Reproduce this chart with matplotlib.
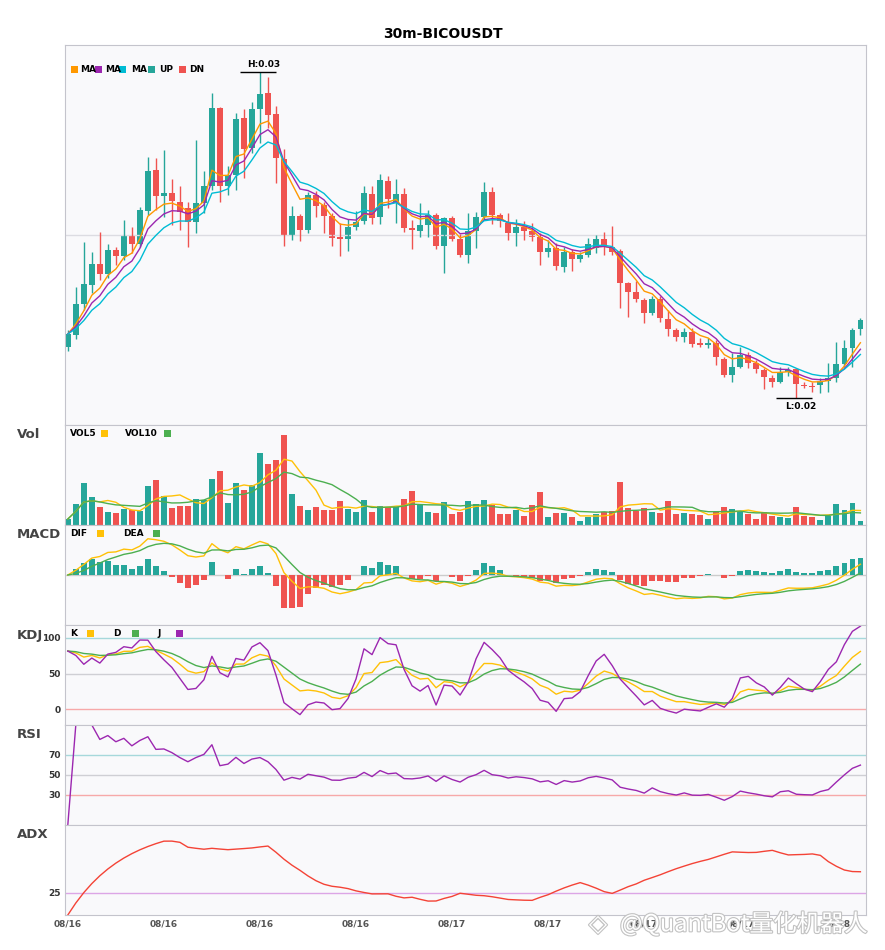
import numpy as np
import pandas as pd
import matplotlib
matplotlib.use('Agg')
import matplotlib.pyplot as plt
from matplotlib.patches import Rectangle
import matplotlib.patheffects as pe

plt.rcParams['font.family'] = ['DejaVu Sans']

# ---- data (30m candles, prices in units of 1e-4 USDT) ----
title = '30m-BICOUSDT'
start_time = '2023-08-16 00:00'

open_ = [215.6, 219.3, 228.8, 234.6, 241.1, 238.0, 245.4, 243.5, 249.6, 247.2,
         257.3, 269.9, 261.9, 262.8, 260.1, 258.2, 254.0, 259.8, 265.0, 288.9,
         265.0, 268.4, 285.9, 276.7, 288.6, 293.6, 287.1, 273.3, 249.6, 255.8,
         251.5, 262.2, 259.2, 255.8, 249.3, 248.7, 252.4, 254.3, 262.5, 255.5,
         266.5, 260.1, 262.5, 252.1, 251.2, 253.0, 256.1, 246.6, 255.2, 248.7,
         243.8, 251.2, 255.5, 263.2, 256.1, 253.6, 250.6, 252.4, 251.2, 249.3,
         244.7, 246.0, 240.1, 244.7, 242.6, 243.8, 246.0, 248.7, 246.3, 245.0,
         235.2, 232.5, 230.0, 226.0, 230.3, 224.2, 220.8, 218.6, 220.2, 216.8,
         216.2, 216.8, 211.9, 207.0, 209.4, 213.1, 210.7, 208.5, 206.1, 204.8,
         207.9, 208.8, 203.9, 203.6, 203.9, 205.1, 206.1, 210.4, 215.3, 221.1]
high = [220.8, 234.0, 247.8, 244.7, 250.9, 247.2, 246.3, 254.6, 252.4, 258.6,
        273.9, 273.6, 276.0, 267.1, 265.0, 260.1, 279.1, 269.6, 293.6, 289.2,
        271.1, 287.4, 288.6, 290.8, 300.0, 298.5, 289.6, 276.4, 258.9, 256.4,
        263.2, 263.5, 260.1, 256.7, 253.6, 254.9, 257.3, 265.0, 265.0, 268.7,
        268.1, 267.1, 264.4, 254.6, 259.8, 257.6, 256.7, 255.5, 255.8, 250.3,
        256.7, 257.0, 266.2, 264.7, 256.7, 256.7, 254.9, 254.3, 253.6, 250.6,
        248.4, 247.5, 246.3, 245.7, 244.7, 249.0, 250.0, 250.9, 252.7, 245.7,
        235.5, 235.8, 230.6, 231.2, 231.2, 226.9, 221.4, 221.4, 221.4, 218.3,
        218.3, 217.7, 212.5, 213.7, 215.6, 214.0, 211.6, 209.1, 207.0, 209.4,
        209.4, 209.1, 204.8, 204.8, 206.1, 210.7, 217.1, 217.7, 221.4, 224.5]
low = [214.3, 218.0, 226.9, 232.1, 236.1, 236.8, 240.7, 242.3, 244.4, 246.3,
       256.1, 257.6, 255.5, 253.0, 251.5, 246.3, 250.6, 256.7, 263.8, 260.1,
       262.2, 263.8, 267.5, 275.1, 278.2, 282.8, 265.9, 246.6, 248.4, 248.1,
       250.6, 255.5, 250.6, 246.5, 243.5, 245.0, 251.5, 253.3, 253.3, 253.3,
       258.2, 253.6, 250.9, 245.7, 249.3, 249.3, 245.7, 238.3, 248.1, 243.2,
       241.4, 246.0, 254.6, 253.3, 252.4, 248.4, 246.6, 248.4, 248.1, 240.7,
       243.2, 239.2, 238.6, 238.9, 241.7, 243.2, 244.4, 243.8, 243.8, 227.5,
       224.8, 229.4, 222.9, 225.4, 223.2, 219.0, 217.4, 217.1, 215.6, 215.6,
       215.3, 210.0, 206.4, 204.8, 209.1, 209.1, 207.6, 202.7, 203.3, 204.5,
       206.7, 200.0, 203.0, 201.8, 201.5, 201.8, 204.8, 209.4, 209.4, 219.4]
close = [219.6, 228.8, 234.9, 241.1, 238.0, 245.4, 243.5, 250.0, 247.2, 257.6,
         269.6, 261.9, 262.8, 260.4, 257.0, 254.0, 259.8, 265.0, 288.9, 265.0,
         268.4, 285.6, 276.4, 288.6, 293.2, 286.8, 273.6, 249.6, 255.8, 251.5,
         262.2, 258.9, 255.8, 249.0, 248.7, 252.4, 254.0, 262.8, 255.2, 266.9,
         261.0, 262.5, 252.1, 251.5, 253.0, 256.1, 246.6, 255.2, 248.7, 243.8,
         251.2, 255.5, 263.2, 256.1, 254.3, 250.6, 252.4, 251.2, 249.3, 244.7,
         246.0, 240.4, 244.7, 242.6, 243.8, 247.2, 248.7, 246.9, 244.7, 235.2,
         232.5, 230.3, 226.0, 230.3, 224.5, 221.1, 218.6, 220.2, 216.5, 216.2,
         216.8, 212.5, 207.0, 209.4, 213.1, 210.7, 208.8, 206.4, 204.8, 207.9,
         208.5, 204.2, 203.6, 203.3, 205.1, 206.1, 210.4, 215.3, 220.8, 223.9]
volume = [18, 64, 125, 85, 55, 40, 37, 49, 45, 43,
          118, 136, 88, 52, 58, 58, 79, 76, 139, 163,
          67, 127, 106, 121, 217, 184, 196, 271, 94, 58,
          46, 55, 46, 46, 73, 49, 40, 76, 40, 58,
          55, 55, 79, 103, 61, 40, 37, 70, 34, 40,
          73, 64, 76, 61, 34, 34, 46, 28, 61, 100,
          25, 37, 37, 25, 13, 25, 34, 40, 43, 130,
          52, 43, 52, 40, 37, 73, 34, 37, 34, 31,
          19, 43, 55, 49, 43, 34, 19, 40, 28, 25,
          22, 55, 28, 25, 16, 28, 64, 46, 67, 13]

UP, DN = '#26a69a', '#ef5350'
ORANGE, PURPLE, CYAN = '#ff9800', '#9c27b0', '#00bcd4'
GOLD, GREEN = '#ffc107', '#4caf50'
BG = '#f9f9fb'

o = np.array(open_) / 1e4
h = np.array(high) / 1e4
l = np.array(low) / 1e4
c = np.array(close) / 1e4
v = np.array(volume, dtype=float)
x = np.arange(len(c))
dates = pd.date_range(start_time, periods=len(c), freq='30min')
cs, hs, ls, vs = pd.Series(c), pd.Series(h), pd.Series(l), pd.Series(v)
col = np.where(c >= o, UP, DN)

# ---- indicators ----
ma1 = cs.ewm(span=5, adjust=False).mean()
ma2 = cs.ewm(span=7, adjust=False).mean()
ma3 = cs.ewm(span=10, adjust=False).mean()
vol5 = vs.rolling(5, min_periods=1).mean()
vol10 = vs.rolling(10, min_periods=1).mean()

# MACD(6, 13, 5)
dif = cs.ewm(span=6, adjust=False).mean() - cs.ewm(span=13, adjust=False).mean()
dea = dif.ewm(span=5, adjust=False).mean()
hist = 2 * (dif - dea)

# KDJ(9, 3, 3)
low9 = ls.rolling(9, min_periods=1).min()
high9 = hs.rolling(9, min_periods=1).max()
rsv = (cs - low9) / (high9 - low9) * 100
k = rsv.ewm(com=2, adjust=False).mean()
d = k.ewm(com=2, adjust=False).mean()
j = 3 * k - 2 * d

# RSI(14)
delta = cs.diff()
gain = delta.clip(lower=0).ewm(alpha=1 / 14, adjust=True).mean()
loss = (-delta.clip(upper=0)).ewm(alpha=1 / 14, adjust=True).mean()
rsi = (100 * gain / (gain + loss)).fillna(0)

# ADX(14)
up_move = hs.diff()
down_move = -ls.diff()
pdm = pd.Series(np.where((up_move > down_move) & (up_move > 0), up_move, 0.0))
mdm = pd.Series(np.where((down_move > up_move) & (down_move > 0), down_move, 0.0))
prev_c = cs.shift(1)
tr = pd.concat([hs - ls, (hs - prev_c).abs(), (ls - prev_c).abs()], axis=1).max(axis=1)
atr = tr.ewm(span=14, adjust=False).mean()
pdi = 100 * pdm.ewm(span=14, adjust=False).mean() / atr
mdi = 100 * mdm.ewm(span=14, adjust=False).mean() / atr
dx = (100 * (pdi - mdi).abs() / (pdi + mdi)).fillna(0)
adx = dx.ewm(span=14, adjust=False).mean()

# ---- layout ----
W, H = 885, 950
fig = plt.figure(figsize=(W / 100, H / 100), dpi=100)


def box(top, bottom):
    return [65 / W, 1 - bottom / H, 801 / W, (bottom - top) / H]


ax_k = fig.add_axes(box(45, 425))
ax_v = fig.add_axes(box(425, 525))
ax_m = fig.add_axes(box(525, 625))
ax_j = fig.add_axes(box(625, 725))
ax_r = fig.add_axes(box(725, 825))
ax_a = fig.add_axes(box(825, 915))
axes = [ax_k, ax_v, ax_m, ax_j, ax_r, ax_a]

for ax in axes:
    ax.set_facecolor(BG)
    ax.set_xlim(-0.35, len(c) - 0.3)
    for s in ax.spines.values():
        s.set_color('#c4c4cc')
    ax.tick_params(length=0, labelsize=6.5, colors='#333333', pad=3)
    ax.set_xticks([])
    ax.set_yticks([])

# candles
ax_k.vlines(x, l, h, colors=col, linewidth=1)
ax_k.bar(x, np.maximum(np.abs(c - o), 0.00003), bottom=np.minimum(o, c), width=0.72, color=col)
ax_k.plot(x, ma1, color=ORANGE, lw=1)
ax_k.plot(x, ma2, color=PURPLE, lw=1)
ax_k.plot(x, ma3, color=CYAN, lw=1)
hi, lo = h.max(), l.min()
pad = 0.083 * (hi - lo)
ax_k.set_ylim(lo - pad, hi + pad)
ax_k.set_yticks([0.025])
ax_k.tick_params(labelleft=False)
ax_k.grid(axis='y', color='#dcdce2', lw=1)
ih, il = int(np.argmax(h)), int(np.argmin(l))
ax_k.hlines(hi, ih - 2.5, ih + 2, color='black', lw=1)
ax_k.annotate(f'H:{hi:.2f}', (ih + 0.5, hi), xytext=(0, 2), textcoords='offset points',
              ha='center', va='bottom', fontsize=6.5, fontweight='bold')
ax_k.hlines(lo, il - 2.5, il + 2, color='black', lw=1)
ax_k.annotate(f'L:{lo:.2f}', (il + 0.5, lo), xytext=(0, -3), textcoords='offset points',
              ha='center', va='top', fontsize=6.5, fontweight='bold')

# volume
ax_v.bar(x, v, width=0.72, color=col)
ax_v.plot(x, vol5, color=GOLD, lw=1)
ax_v.plot(x, vol10, color=GREEN, lw=1)
ax_v.set_ylim(0, v.max() * 1.11)

# macd
ax_m.bar(x, hist, width=0.72, color=np.where(hist >= 0, UP, DN))
ax_m.plot(x, dif, color=GOLD, lw=1)
ax_m.plot(x, dea, color=GREEN, lw=1)
ax_m.axhline(0, color='#cccccc', lw=1, zorder=0)
mlim = 1.38 * max(np.abs(hist).max(), np.abs(dif).max(), np.abs(dea).max())
ax_m.set_ylim(-mlim, mlim)

# kdj
for lv, cl in [(100, '#a6d8db'), (50, '#cfcfd4'), (0, '#f7a9a9')]:
    ax_j.axhline(lv, color=cl, lw=1, zorder=0)
ax_j.plot(x, k, color=GOLD, lw=1)
ax_j.plot(x, d, color=GREEN, lw=1)
ax_j.plot(x, j, color=PURPLE, lw=1)
ax_j.set_ylim(-22, max(118, j.max()))
ax_j.set_yticks([0, 50, 100])

# rsi
for lv, cl in [(70, '#a6d8db'), (50, '#cfcfd4'), (30, '#f7a9a9')]:
    ax_r.axhline(lv, color=cl, lw=1, zorder=0)
ax_r.plot(x, rsi, color=PURPLE, lw=1)
ax_r.set_ylim(0, 100)
ax_r.set_yticks([30, 50, 70])

# adx
ax_a.axhline(25, color='#dca6e6', lw=1, zorder=0)
ax_a.plot(x, adx, color='#f44336', lw=1)
ax_a.set_ylim(0, 100)
ax_a.set_yticks([25])
ticks = x[::12]
ax_a.set_xticks(ticks)
ax_a.set_xticklabels(dates[ticks].strftime('%m/%d'))

for ax in [ax_j, ax_r, ax_a]:
    for t in ax.get_yticklabels() + ax.get_xticklabels():
        t.set_fontweight('bold')
for t in ax_a.get_xticklabels():
    t.set_color('#555555')


# ---- text & legends ----
def swatch(px, py, color):
    fig.add_artist(Rectangle((px / W, 1 - (py + 3.5) / H), 7 / W, 7 / H,
                             transform=fig.transFigure, facecolor=color, edgecolor='none'))


def label(px, py, s):
    fig.text(px / W, 1 - py / H, s, fontsize=6.5, fontweight='bold', va='center', ha='left')


fig.text(443 / W, 1 - 34 / H, title, ha='center', va='center', fontsize=10, fontweight='bold')

swatch(70.5, 69, ORANGE); label(80.5, 69, 'MA')
swatch(94.5, 69, PURPLE); label(105, 69, 'MA')
swatch(118.5, 69, CYAN); label(131.5, 69, 'MA')
swatch(147.5, 69, UP); label(159, 69, 'UP')
swatch(179, 69, DN); label(189, 69, 'DN')

label(70, 433.5, 'VOL5'); swatch(101, 433.5, GOLD)
label(125, 433.5, 'VOL10'); swatch(163.5, 433.5, GREEN)
label(70, 533.5, 'DIF'); swatch(97, 533.5, GOLD)
label(123, 533.5, 'DEA'); swatch(153, 533.5, GREEN)
label(70, 633.5, 'K'); swatch(87, 633.5, GOLD)
label(113, 633.5, 'D'); swatch(132, 633.5, GREEN)
label(157, 633.5, 'J'); swatch(176, 633.5, PURPLE)

for name, py in [('Vol', 434), ('MACD', 535), ('KDJ', 635), ('RSI', 735), ('ADX', 835)]:
    fig.text(17 / W, 1 - py / H, name, fontsize=9.5, fontweight='bold', color='#444444', va='center')

# watermark (drawn over the date labels, as in the reference)
stroke = [pe.withStroke(linewidth=1.6, foreground='#c2c2c2')]
fig.text(598 / W, 1 - 924 / H, '◈', fontsize=17, color='white', ha='center', va='center',
         path_effects=stroke)
fig.text(620 / W, 1 - 924 / H, '@QuantBot量化机器人', fontsize=17, color='white', va='center',
         family=['Noto Sans CJK SC', 'DejaVu Sans'], path_effects=stroke)

fig.savefig('out.png', dpi=100, facecolor='white')
